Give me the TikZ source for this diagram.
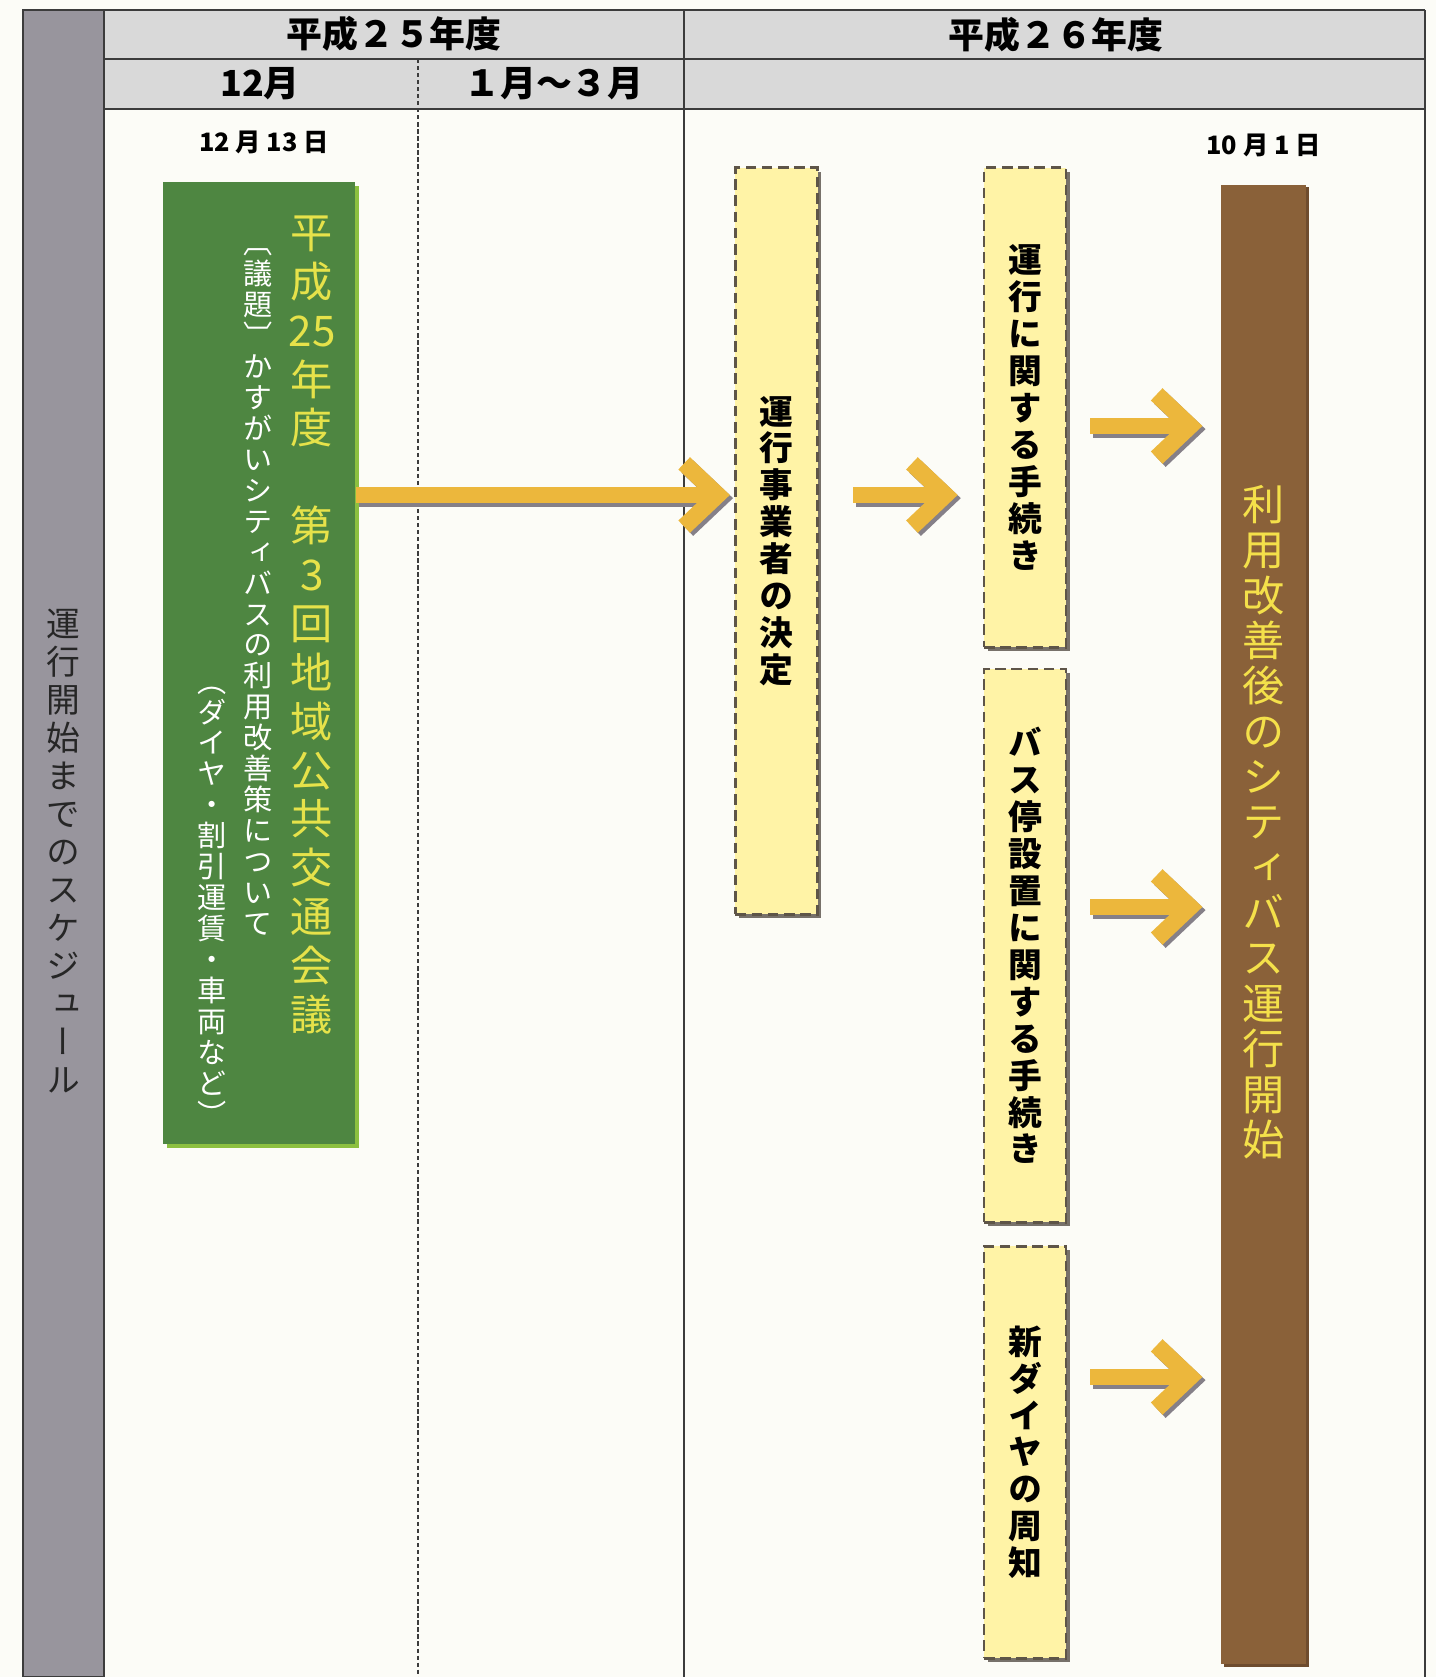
\documentclass[tikz,border=0pt]{standalone}
\usepackage{fontspec}
\setmainfont{Noto Sans CJK JP}
\newfontfamily\jpvert[RawFeature=+vert]{Noto Sans CJK JP}
\usetikzlibrary{arrows.meta,%
                shadows,positioning}

\definecolor{paper}{HTML}{FCFCF7}
\definecolor{headgray}{HTML}{D9D9D9}
\definecolor{rulegray}{HTML}{3C3C3C}
\definecolor{bargray}{HTML}{98959D}
\definecolor{meetgreen}{HTML}{4E8641}
\definecolor{leafgreen}{HTML}{8CC040}
\definecolor{titleyellow}{HTML}{E6E24A}
\definecolor{noteyellow}{HTML}{FFF3A6}
\definecolor{noteline}{HTML}{5E5548}
\definecolor{noteshade}{HTML}{77716A}
\definecolor{startbrown}{HTML}{8A6139}
\definecolor{brownshade}{HTML}{6E4C2E}
\definecolor{startyellow}{HTML}{F4E04A}
\definecolor{arrowgold}{HTML}{ECB73C}
\definecolor{arrowshade}{HTML}{858088}

% one glyph per line (vertical writing)
\def\tateend{tate-end}
\newcommand\tate[1]{\vbox{\lineskiplimit=-\maxdimen\lineskip=0pt\tatego#1\tateend}}
\def\tatego#1{\ifx\tateend#1\else\hbox to 1.4em{\hss#1\hss}\expandafter\tatego\fi}

\begin{document}
\begin{tikzpicture}[x=0.01cm, y=-0.01cm]
  \tikzset{HeadStyle/.style  = {font         = \bfseries\fontsize{10.2}{12}\selectfont,
                                inner sep    = 0pt},
           DateStyle/.style  = {font         = \bfseries\fontsize{7.2}{9}\selectfont,
                                inner sep    = 0pt},
           RuleStyle/.style  = {draw         = rulegray,
                                line width   = 0.5pt},
           BarStyle/.style   = {text         = black!85,
                                font         = \jpvert\fontsize{9.6}{10.8}\selectfont},
           MeetStyle/.style  = {shape        = rectangle,
                                fill         = meetgreen,
                                minimum width  = 19.2mm,
                                minimum height = 96.2mm,
                                drop shadow  = {shadow xshift = 1.1pt, shadow yshift = -1.1pt,
                                                fill = leafgreen, opacity = 1}},
           TitleStyle/.style = {text         = titleyellow,
                                font         = \jpvert\fontsize{12}{13.9}\selectfont},
           NoteStyle/.style  = {text         = white,
                                font         = \jpvert\fontsize{8.3}{8.8}\selectfont},
           StepStyle/.style  = {shape        = rectangle,
                                fill         = noteyellow,
                                draw         = noteline,
                                line width   = 0.8pt,
                                dash pattern = on 3pt off 1.6pt,
                                minimum width = 8.2mm,
                                inner sep    = 0pt,
                                drop shadow  = {shadow xshift = 1.1pt, shadow yshift = -1.1pt,
                                                fill = noteshade, opacity = 1},
                                font         = \jpvert\bfseries\fontsize{9.6}{10.5}\selectfont},
           StartStyle/.style = {shape        = rectangle,
                                fill         = startbrown,
                                minimum width  = 8.5mm,
                                minimum height = 147.9mm,
                                drop shadow  = {shadow xshift = 0.8pt, shadow yshift = -0.8pt,
                                                fill = brownshade, opacity = 1}},
           StartText/.style  = {text         = startyellow,
                                font         = \jpvert\fontsize{12}{12.9}\selectfont},
           ArrowStyle/.style = {draw         = arrowgold,
                                line width   = 4.8pt,
                                -{Straight Barb[length = 9.5pt, width = 18pt]}},
           ArrowShade/.style = {ArrowStyle,
                                draw         = arrowshade,
                                transform canvas = {shift = {(0.9pt,-0.9pt)}}}}
  \fill[paper] (0,0) rectangle (1436,1677);
  \useasboundingbox (0,0) rectangle (1436,1677);
  %%% TABLE %%%
  \fill[headgray] (104,10) rectangle (1425,109);
  \draw[RuleStyle] (104,10) -- (1425,10) (104,59) -- (1425,59) (104,109) -- (1425,109);
  \draw[RuleStyle] (684,10) -- (684,1677) (1425,10) -- (1425,1677);
  \draw[RuleStyle, line width = 0.5pt, dash pattern = on 1.2pt off 0.8pt] (418,59) -- (418,1677);
  \filldraw[fill = bargray, draw = rulegray, line width = 0.5pt] (23,10) rectangle (104,1677);
  \node[BarStyle] (bar) at (63,851) {\tate{運行開始までのスケジュール}};
  %
  \node[HeadStyle] (y25) at (394,34) {平成２５年度};
  \node[HeadStyle] (y26) at (1056,35) {平成２６年度};
  \node[HeadStyle] (dec) at (260,84) {12月};
  \node[HeadStyle] (jm) at (554,84) {１月～３月};
  %%% MEETING %%%
  \node[MeetStyle] (meet) at (259,663) {};
  \node[DateStyle, above = 7.4pt of meet, xshift = 1.4pt] (d1213) {12 月 13 日};
  \node[TitleStyle] (title) at (312,625) {\tate{平成{25}年度{\ }第3回地域公共交通会議}};
  \node[NoteStyle] (topic) at (258,592) {\tate{〔議題〕かすがいシティバスの利用改善策について}};
  \node[NoteStyle] (items) at (212,906) {\tate{（ダイヤ・割引運賃・車両など）}};
  %%% STEPS %%%
  \node[StepStyle, minimum height = 74.6mm] (op) at (776.5,541) {\tate{運行事業者の決定}};
  \node[StepStyle, minimum height = 47.9mm] (rules) at (1025,407.5) {\tate{運行に関する手続き}};
  \node[StepStyle, minimum height = 55.3mm, below = 1.9mm of rules] (stops) {\tate{バス停設置に関する手続き}};
  \node[StepStyle, minimum height = 41.2mm, below = 2.1mm of stops] (dia) {\tate{新ダイヤの周知}};
  %%% START %%%
  \node[StartStyle] (start) at (1263.5,924.5) {};
  \node[DateStyle, above = 7.5pt of start] (d1001) {10 月 1 日};
  \node[StartText] (starttxt) at (1264,822) {\tate{利用改善後のシティバス運行開始}};
  %%% ARROWS %%%
  \coordinate (r1) at (0,495);
  \coordinate (r2) at (0,426);
  \coordinate (r3) at (0,907);
  \coordinate (r4) at (0,1377);
  \foreach \src/\dst/\row/\ga/\gb in {meet/op/r1/0pt/1.2pt, op/rules/r1/9.7pt/7.1pt,
                                      rules/start/r2/6.5pt/5.1pt, stops/start/r3/6.5pt/5.1pt,
                                      dia/start/r4/6.5pt/5.1pt}
  {
    \draw[ArrowShade, shorten <=\ga, shorten >=\gb] (\src.east |- \row) -- (\dst.west |- \row);
    \draw[ArrowStyle, shorten <=\ga, shorten >=\gb] (\src.east |- \row) -- (\dst.west |- \row);
  }
\end{tikzpicture}
\end{document}
